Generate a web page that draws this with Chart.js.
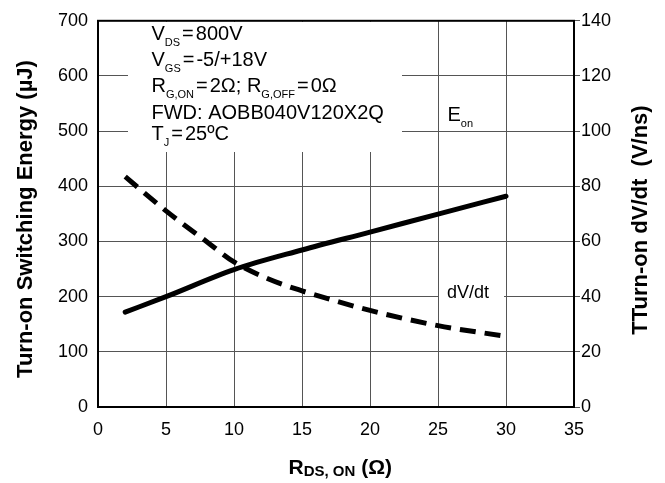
<!DOCTYPE html>
<html>
<head>
<meta charset="utf-8">
<script src="https://cdn.jsdelivr.net/npm/chart.js@4.4.1/dist/chart.umd.min.js"></script>
<style>
  html, body { margin: 0; padding: 0; background: #fff; }
  #wrap { width: 665px; height: 483px; }
</style>
</head>
<body>
<div id="wrap"><canvas id="chart" width="665" height="483"></canvas></div>
<script>
// values
const rdsEon = [2, 5, 10, 15, 20, 25, 30];
const eonValues = [172, 200, 249, 284.6, 317, 349.7, 382];

const rdsDvdt = [2, 5, 8, 10, 12.5, 15, 17.5, 20, 25, 30];
const dvdtValues = [83.5, 71.1, 59.9, 52.6, 46.5, 42.1, 38.4, 35, 29.5, 25.6];

const xTicks = [0, 5, 10, 15, 20, 25, 30, 35];
const energyTicks = [0, 100, 200, 300, 400, 500, 600, 700];
const dvdtTicks = [0, 20, 40, 60, 80, 100, 120, 140];

const FONT = '"Liberation Sans", Arial, sans-serif';

// text with subscripts: {t} normal, {s} subscript, {g} gap in px
function drawRich(ctx, x, y, parts, size, subSize, bold) {
    const w = bold ? 'bold ' : '';
    for (const p of parts) {
        if (p.g) { x += p.g; continue; }
        if (p.s !== undefined) {
            ctx.font = `${w}${subSize}px ${FONT}`;
            ctx.fillText(p.s, x, y + (p.dy || 6));
            x += ctx.measureText(p.s).width;
        } else {
            ctx.font = `${w}${size}px ${FONT}`;
            ctx.fillText(p.t, x, y);
            x += ctx.measureText(p.t).width;
        }
    }
    return x;
}

const overlay = {
    id: 'overlay',
    beforeDatasetsDraw(chart) {
        const { ctx, chartArea: a } = chart;
        ctx.save();
        // white boxes behind the notes
        ctx.fillStyle = '#fff';
        ctx.fillRect(128, a.top + 1, 274, 151 - a.top);
        ctx.fillRect(440, 120, 47, 10);
        ctx.fillRect(439, 289, 65, 12);
        // frame
        ctx.strokeStyle = '#000';
        ctx.lineWidth = 2;
        ctx.strokeRect(a.left, a.top, a.right - a.left, a.bottom - a.top);
        ctx.restore();
    },
    afterDraw(chart) {
        const { ctx } = chart;
        ctx.save();
        ctx.fillStyle = '#000';
        ctx.textAlign = 'left';
        ctx.textBaseline = 'alphabetic';

        // test conditions
        const x0 = 151.5;
        drawRich(ctx, x0, 39.5, [{ t: 'V' }, { s: 'DS' }, { g: 2 }, { t: '=' }, { g: 2 }, { t: '800V' }], 20, 11);
        drawRich(ctx, x0, 66, [{ t: 'V' }, { s: 'GS' }, { g: 2 }, { t: '=' }, { g: 2 }, { t: '-5/+18V' }], 20, 11);
        drawRich(ctx, x0, 92, [{ t: 'R' }, { s: 'G,ON' }, { g: 2 }, { t: '=' }, { g: 2 }, { t: '2Ω; R' },
            { s: 'G,OFF' }, { g: 2 }, { t: '=' }, { g: 2 }, { t: '0Ω' }], 20, 11);
        drawRich(ctx, x0, 118.5, [{ t: 'FWD: AOBB040V120X2Q' }], 20, 11);
        drawRich(ctx, x0, 140, [{ t: 'T' }, { s: 'J' }, { g: 2 }, { t: '=' }, { g: 2 }, { t: '25ºC' }], 20, 11);

        // curve labels
        drawRich(ctx, 447.5, 121, [{ t: 'E' }, { s: 'on' }], 20, 11);
        ctx.font = `18px ${FONT}`;
        ctx.fillText('dV/dt', 447, 297.5);

        // axis titles
        drawRich(ctx, 288.5, 474, [{ t: 'R' }, { s: 'DS, ON', dy: 2 }, { t: ' (Ω)' }], 21, 15, true);

        ctx.font = `bold 22px ${FONT}`;
        ctx.textAlign = 'center';
        ctx.save();
        ctx.translate(31.5, 219);
        ctx.rotate(-Math.PI / 2);
        ctx.fillText('Turn-on Switching Energy (µJ)', 0, 0);
        ctx.restore();

        ctx.save();
        ctx.translate(646.5, 220);
        ctx.rotate(-Math.PI / 2);
        ctx.fillText('TTurn-on dV/dt  (V/ns)', 0, 0);
        ctx.restore();

        ctx.restore();
    }
};

const gridColor = '#555';

const data = {
    datasets: [
        {
            label: 'Eon',
            data: rdsEon.map((x, i) => ({ x: x, y: eonValues[i] })),
            yAxisID: 'y',
            borderColor: '#000',
            borderWidth: 5,
            borderCapStyle: 'round',
            pointRadius: 0,
            cubicInterpolationMode: 'monotone'
        },
        {
            label: 'dV/dt',
            data: rdsDvdt.map((x, i) => ({ x: x, y: dvdtValues[i] })),
            yAxisID: 'y1',
            borderColor: '#000',
            borderWidth: 5,
            borderDash: [16, 9],
            borderCapStyle: 'butt',
            pointRadius: 0,
            cubicInterpolationMode: 'monotone'
        }
    ]
};

const config = {
    type: 'line',
    data: data,
    plugins: [overlay],
    options: {
        responsive: false,
        animation: false,
        layout: { padding: { top: 13, left: 0, right: 0, bottom: 0 } },
        plugins: {
            legend: { display: false },
            tooltip: { enabled: false }
        },
        scales: {
            x: {
                type: 'linear',
                min: 0,
                max: 35,
                afterBuildTicks: s => { s.ticks = xTicks.map(v => ({ value: v })); },
                afterFit: s => { s.height = 76; },
                border: { display: false },
                grid: {
                    color: ctx => (ctx.tick && (ctx.tick.value === 0 || ctx.tick.value === 35)) ? 'rgba(0,0,0,0)' : gridColor,
                    lineWidth: 1,
                    drawTicks: false
                },
                ticks: {
                    padding: 12,
                    color: '#000',
                    font: { family: FONT, size: 18 }
                }
            },
            y: {
                position: 'left',
                min: 0,
                max: 700,
                afterBuildTicks: s => { s.ticks = energyTicks.map(v => ({ value: v })); },
                afterFit: s => { s.width = 98; },
                border: { display: false },
                grid: {
                    color: ctx => (ctx.tick && (ctx.tick.value === 0 || ctx.tick.value === 700)) ? 'rgba(0,0,0,0)' : gridColor,
                    lineWidth: 1,
                    drawTicks: false
                },
                ticks: {
                    padding: 10,
                    color: '#000',
                    font: { family: FONT, size: 18 }
                }
            },
            y1: {
                position: 'right',
                min: 0,
                max: 140,
                afterBuildTicks: s => { s.ticks = dvdtTicks.map(v => ({ value: v })); },
                afterFit: s => { s.width = 91; },
                border: { display: false },
                grid: {
                    drawOnChartArea: false,
                    color: gridColor,
                    lineWidth: 1,
                    tickLength: 6
                },
                ticks: {
                    padding: 1,
                    color: '#000',
                    font: { family: FONT, size: 18 }
                }
            }
        }
    }
};

new Chart(document.getElementById('chart').getContext('2d'), config);
</script>
</body>
</html>
